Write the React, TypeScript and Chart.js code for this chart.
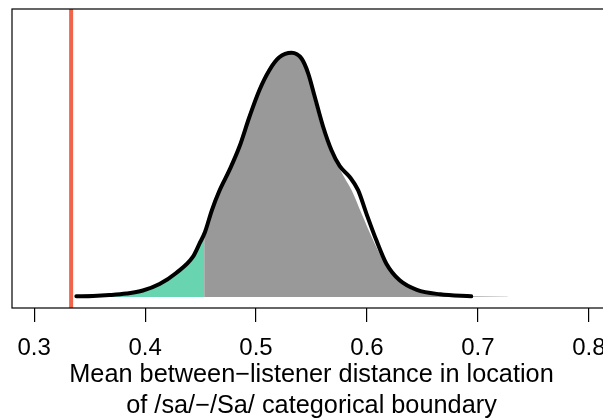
import { useEffect, useRef } from "react";
import { Chart, registerables } from "chart.js";

Chart.register(...registerables);

// x-axis ticks
const tickValues = [0.3, 0.4, 0.5, 0.6, 0.7, 0.8];
const tickLabels = ["0.3", "0.4", "0.5", "0.6", "0.7", "0.8"];

// density curve (black line)
const curveX = [0.338, 0.353, 0.368, 0.383, 0.398, 0.413, 0.428, 0.443, 0.449, 0.454, 0.46, 0.467, 0.476, 0.485, 0.494, 0.503, 0.512, 0.521, 0.532, 0.541, 0.547, 0.553, 0.5605, 0.568, 0.5755, 0.5845, 0.592, 0.5995, 0.6085, 0.6175, 0.6295, 0.645, 0.666, 0.694];
const curveY = [0.02, 0.03, 0.06, 0.11, 0.21, 0.42, 0.78, 1.3, 1.73, 2.11, 2.8, 3.45, 4.12, 4.88, 5.85, 6.72, 7.37, 7.79, 7.94, 7.75, 7.27, 6.5, 5.53, 4.77, 4.25, 3.9, 3.47, 2.71, 1.84, 1.08, 0.54, 0.23, 0.085, 0.02];

// grey filled region (above the lower cut-off)
const greyX = [0.4532, 0.459, 0.466, 0.475, 0.484, 0.493, 0.502, 0.511, 0.52, 0.5304, 0.5394, 0.5458, 0.5512, 0.5585, 0.5657, 0.574, 0.58, 0.5862, 0.5951, 0.6056, 0.6162, 0.6279, 0.6423, 0.6658, 0.693, 0.727];
const greyY = [2.11, 2.85, 3.5, 4.15, 4.92, 5.9, 6.77, 7.42, 7.83, 7.9, 7.76, 7.31, 6.56, 5.58, 4.83, 4.25, 3.86, 3.47, 2.71, 1.84, 1.08, 0.54, 0.23, 0.07, 0.02, 0.005];

// green filled lower tail
const greenX = [0.338, 0.353, 0.368, 0.383, 0.398, 0.413, 0.428, 0.443, 0.449, 0.4532];
const greenY = [0.02, 0.03, 0.06, 0.11, 0.21, 0.42, 0.78, 1.3, 1.73, 2.09];

// vertical reference line
const boundaryX = [0.3333, 0.3333];
const boundaryY = [-0.36, 9.36];

const axisTitle = ["Mean between\u2212listener distance in location", "of /sa/\u2212/Sa/ categorical boundary"];

const FONT = "'Liberation Sans', Arial, Helvetica, sans-serif";

export default function App() {
  const ref = useRef<HTMLCanvasElement>(null);

  useEffect(() => {
    if (!ref.current) return;
    const boxPlugin = {
      id: "box",
      afterDraw(chart: any) {
        const { ctx, chartArea: a } = chart;
        ctx.save();
        ctx.strokeStyle = "#000";
        ctx.lineWidth = 1.2;
        ctx.strokeRect(a.left, a.top, a.right - a.left, a.bottom - a.top);
        ctx.restore();
      },
    };
    const chart = new Chart(ref.current, {
      type: "line",
      data: {
        datasets: [
          {
            data: curveX.map((x, i) => ({ x, y: curveY[i] })),
            borderColor: "#000",
            borderWidth: 4,
            borderCapStyle: "round",
            borderJoinStyle: "round",
            pointRadius: 0,
            fill: false,
            cubicInterpolationMode: "monotone",
            order: 0,
          },
          {
            data: boundaryX.map((x, i) => ({ x, y: boundaryY[i] })),
            borderColor: "#F26449",
            borderWidth: 4,
            pointRadius: 0,
            fill: false,
            order: 1,
          },
          {
            data: greenX.map((x, i) => ({ x, y: greenY[i] })),
            borderWidth: 0,
            backgroundColor: "#68D5B0",
            pointRadius: 0,
            fill: "origin",
            cubicInterpolationMode: "monotone",
            order: 2,
          },
          {
            data: greyX.map((x, i) => ({ x, y: greyY[i] })),
            borderWidth: 0,
            backgroundColor: "#999999",
            pointRadius: 0,
            fill: "origin",
            cubicInterpolationMode: "monotone",
            order: 3,
          },
        ],
      },
      options: {
        animation: false,
        responsive: false,
        layout: { padding: { left: 12, top: 9, right: 29, bottom: 0 } },
        plugins: { legend: { display: false }, tooltip: { enabled: false } },
        scales: {
          x: {
            type: "linear",
            min: 0.28,
            max: 0.82,
            afterBuildTicks: (s: any) => {
              s.ticks = tickValues.map((v) => ({ value: v }));
            },
            afterFit: (s: any) => {
              s.height = 122;
            },
            ticks: {
              callback: (_v: any, i: number) => tickLabels[i],
              font: { family: FONT, size: 24 },
              color: "#000",
              padding: 12,
              maxRotation: 0,
              autoSkip: false,
            },
            grid: { drawOnChartArea: false, drawTicks: true, tickLength: 14, color: "#000", lineWidth: 1.2 },
            border: { display: false },
            title: {
              display: true,
              text: axisTitle,
              font: { family: FONT, size: 25.3, lineHeight: 31 / 25.3 },
              color: "#000",
              padding: { top: 0, bottom: 8 },
            },
          },
          y: { type: "linear", min: -0.36, max: 9.36, display: false },
        },
      },
      plugins: [boxPlugin],
    } as any);
    return () => chart.destroy();
  }, []);

  return (
    <div style={{ position: "absolute", left: 0, top: 0, width: 603, height: 419, overflow: "hidden", background: "#fff" }}>
      <canvas ref={ref} width={640} height={430} style={{ display: "block" }} />
    </div>
  );
}
